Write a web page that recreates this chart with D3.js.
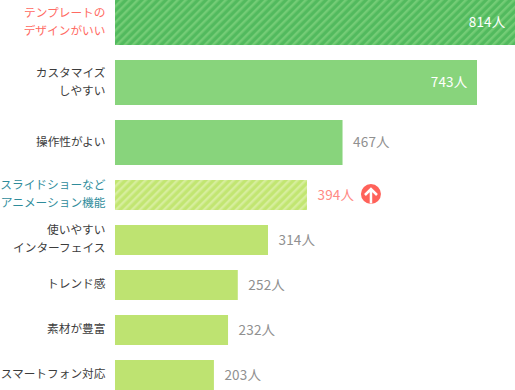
<!DOCTYPE html>
<html lang="ja">
<head>
<meta charset="utf-8">
<script src="https://cdn.jsdelivr.net/npm/d3@7"></script>
<style>
  html, body { margin: 0; padding: 0; background: #fff; }
  svg { display: block; }
  text { font-family: "Noto Sans CJK JP", "Noto Sans", sans-serif; }
</style>
</head>
<body>
<div id="chart"></div>
<script>
// values
const categories = [
  ["テンプレートの", "デザインがいい"],
  ["カスタマイズ", "しやすい"],
  ["操作性がよい"],
  ["スライドショーなど", "アニメーション機能"],
  ["使いやすい", "インターフェイス"],
  ["トレンド感"],
  ["素材が豊富"],
  ["スマートフォン対応"]
];
const values = [814, 743, 467, 394, 314, 252, 232, 203];
const barKinds = ["top", "top", "top", "mid", "mid", "mid", "mid", "mid"];
const highlights = ["best", null, null, "rise", null, null, null, null];

(function () {
  "use strict";

  const width = 515, height = 390;
  const left = 115, gap = 15;
  const barHeights = { top: 45, mid: 30 };
  const fills = { top: "#88d47c", mid: "#bee371" };
  const labelColors = { best: "#ff6a62", rise: "#2f8c9b" };

  const svg = d3.select("#chart").append("svg")
    .attr("width", width)
    .attr("height", height);

  // diagonal stripes for the two highlighted bars
  const defs = svg.append("defs");
  function stripes(id, base, line) {
    const size = 5.66;
    const p = defs.append("pattern")
      .attr("id", id)
      .attr("width", size)
      .attr("height", size)
      .attr("patternUnits", "userSpaceOnUse")
      .attr("patternTransform", "rotate(45)");
    p.append("rect").attr("width", size).attr("height", size).attr("fill", base);
    p.append("rect").attr("width", 2.4).attr("height", size).attr("fill", line);
  }
  stripes("stripe-best", "#52ba5e", "#74cc76");
  stripes("stripe-rise", "#c2e672", "#d6ee9c");

  // the longest bar runs on to the page edge, so the scale has a last stop there
  const x = d3.scaleLinear()
    .domain([0, 743, 814])
    .range([0, 362, width - left]);

  // rows have two heights, so y comes from a running total
  const heights = barKinds.map(k => barHeights[k]);
  const tops = heights.map((h, i) => d3.sum(heights.slice(0, i)) + gap * i);

  const rows = svg.selectAll(".row")
    .data(values)
    .enter()
    .append("g")
    .attr("class", "row")
    .attr("transform", (d, i) => `translate(0,${tops[i]})`);

  // Bars
  rows.append("rect")
    .attr("x", left)
    .attr("width", d => x(d))
    .attr("height", (d, i) => heights[i])
    .attr("fill", (d, i) => {
      if (highlights[i] === "best") return "url(#stripe-best)";
      if (highlights[i] === "rise") return "url(#stripe-rise)";
      return fills[barKinds[i]];
    });

  // Category labels, one or two lines
  rows.each(function (d, i) {
    const lines = categories[i];
    const t = d3.select(this).append("text")
      .attr("text-anchor", "end")
      .attr("font-size", 11.7)
      .attr("fill", labelColors[highlights[i]] || "#3c3c3c");
    lines.forEach((line, j) => {
      t.append("tspan")
        .attr("x", 105.5)
        .attr("y", heights[i] / 2 + 3 + (j - (lines.length - 1) / 2) * 18)
        .text(line);
    });
  });

  // Value labels, inside the long bars and beside the others
  const isInside = d => x(d) > 300;
  rows.append("text")
    .attr("x", d => isInside(d) ? left + x(d) - 9.5 : left + x(d) + 10.5)
    .attr("y", (d, i) => heights[i] / 2 + 4.5)
    .attr("text-anchor", d => isInside(d) ? "end" : "start")
    .attr("font-size", 13.5)
    .attr("letter-spacing", 0.2)
    .attr("fill", (d, i) => isInside(d) ? "#fff" : (highlights[i] === "rise" ? "#ff8a84" : "#909090"))
    .text(d => `${d}人`);

  // Up arrow badge next to the riser
  const rise = rows.filter((d, i) => highlights[i] === "rise");
  const badge = rise.append("g")
    .attr("transform", d => `translate(${left + x(d) + 64},14)`);
  badge.append("circle").attr("r", 10).attr("fill", "#ff625a");
  badge.append("path")
    .attr("d", "M0,9.5V-5M-6,1L0,-5L6,1")
    .attr("fill", "none")
    .attr("stroke", "#fff")
    .attr("stroke-width", 2.5);
})();
</script>
</body>
</html>
